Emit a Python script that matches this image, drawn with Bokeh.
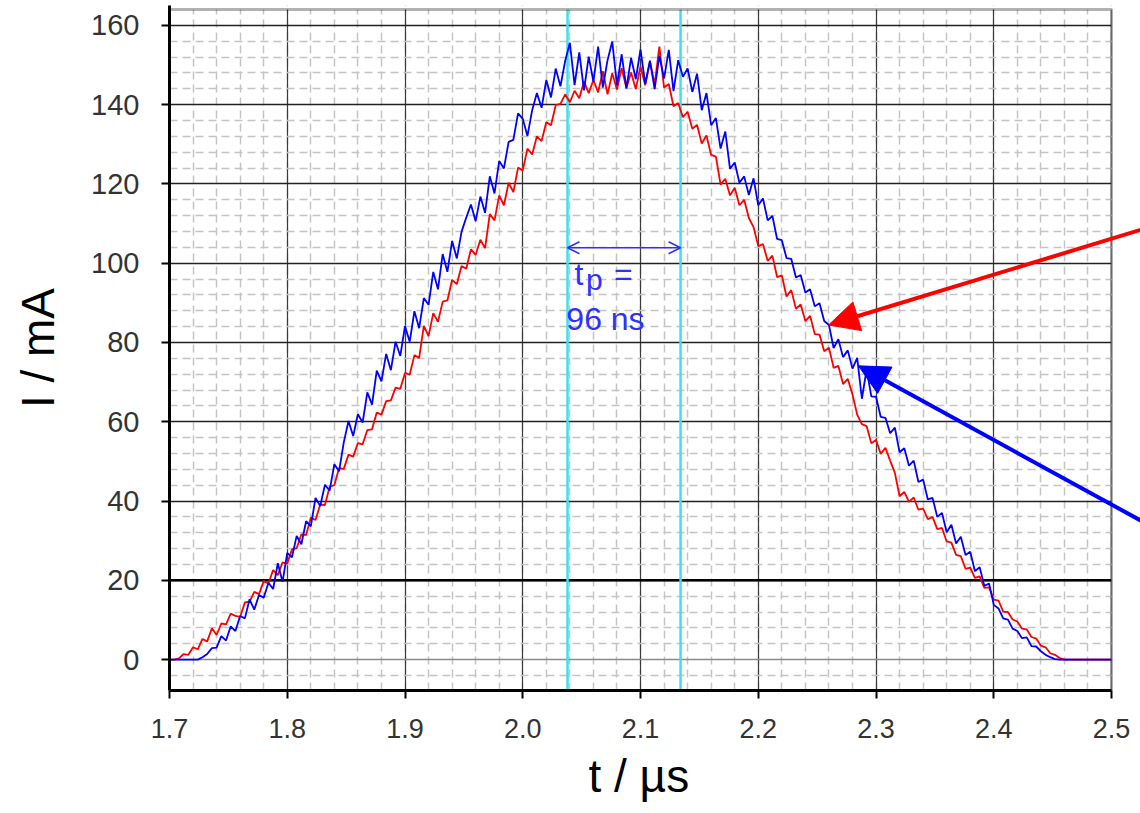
import numpy as np
from bokeh.plotting import figure
from bokeh.models import (Arrow, NormalHead, OpenHead, Span, Label, BoxAnnotation, Title,
                          SingleIntervalTicker, FixedTicker, Range1d, PrintfTickFormatter)
from bokeh.embed import file_html
from bokeh.resources import INLINE

# ---------------- data ----------------
t_start = 1.700          # µs
t_step = 0.004           # µs sampling of the traces

blue_mA = [
    0, 0, 0, 0, 0, 0, 0, 0.6, 1.4, 2.9,
    3.0, 5.9, 4.8, 8.4, 7.2, 11.0, 10.4, 15.2, 12.6, 16.3,
    15.6, 19.4, 17.8, 24.3, 19.6, 26.9, 25.8, 31.2, 29.1, 34.9,
    33.6, 40.8, 38.7, 44.1, 42.6, 49.3, 47.5, 54.8, 60.2, 56.4,
    61.9, 59.8, 67.4, 64.3, 72.9, 70.2, 77.1, 73.0, 80.2, 76.6,
    84.1, 80.2, 87.9, 83.6, 91.2, 89.5, 97.8, 93.4, 102.3, 97.8,
    105.6, 101.2, 107.9, 111.5, 114.8, 110.6, 116.8, 112.7, 121.9, 117.6,
    125.8, 123.9, 130.6, 131.1, 137.8, 136.4, 132.1, 138.6, 142.9, 139.2,
    146.2, 141.8, 149.1, 144.6, 151.0, 155.6, 144.9, 153.2, 143.6, 152.1,
    145.8, 154.6, 144.3, 151.2, 155.9, 144.9, 152.7, 144.1, 151.8, 146.4,
    153.9, 145.2, 151.1, 143.9, 152.3, 146.6, 153.8, 143.4, 151.2, 147.0,
    149.1, 143.2, 147.8, 138.6, 142.9, 134.8, 136.6, 128.9, 133.2, 123.8,
    125.4, 120.3, 121.9, 117.2, 121.4, 114.6, 116.3, 110.8, 111.9, 106.1,
    105.8, 101.3, 101.1, 96.4, 97.0, 92.6, 93.4, 89.1, 89.9, 85.4,
    84.4, 78.6, 80.8, 76.3, 78.0, 73.4, 76.1, 65.8, 73.2, 66.4,
    66.3, 61.2, 61.0, 57.1, 58.5, 52.3, 53.3, 48.9, 50.2, 44.8,
    45.4, 40.4, 40.8, 36.0, 37.0, 32.1, 34.0, 29.3, 31.0, 26.4,
    27.2, 22.3, 23.3, 18.6, 19.2, 13.8, 12.9, 10.4, 10.1, 7.8,
    7.2, 5.4, 5.6, 3.4, 3.3, 2.1, 1.2, 0.6, 0.1, 0,
    0, 0, 0, 0, 0, 0, 0, 0, 0, 0,
    0,
]

red_mA = [
    0, 0, 0.3, 1.4, 1.2, 3.1, 2.6, 5.2, 4.6, 7.9,
    6.2, 9.1, 8.9, 11.6, 11.0, 10.8, 14.4, 14.6, 17.1, 16.5,
    19.8, 19.2, 22.6, 21.3, 24.5, 24.2, 27.8, 28.1, 31.6, 31.4,
    35.8, 35.2, 39.1, 39.0, 43.6, 44.0, 48.3, 48.1, 51.7, 51.2,
    54.6, 54.3, 57.9, 58.1, 62.3, 61.8, 65.2, 65.4, 68.6, 68.3,
    72.3, 71.9, 76.8, 76.1, 84.2, 81.6, 87.4, 85.2, 90.3, 90.6,
    95.8, 94.7, 99.3, 98.6, 103.5, 102.1, 105.9, 103.8, 112.4, 110.8,
    117.1, 114.6, 120.3, 117.9, 124.1, 123.4, 128.9, 127.4, 132.0, 130.8,
    135.6, 134.8, 139.9, 140.2, 142.6, 140.6, 143.5, 141.6, 145.8, 142.9,
    146.2, 143.1, 148.4, 142.6, 147.9, 143.8, 149.2, 144.2, 148.1, 143.9,
    149.6, 144.9, 150.8, 145.1, 154.6, 144.3, 145.2, 139.6, 140.4, 136.8,
    138.2, 133.9, 134.9, 130.2, 132.2, 127.3, 126.9, 119.8, 121.3, 117.1,
    119.0, 114.6, 116.0, 111.4, 109.1, 104.3, 104.8, 100.6, 101.9, 96.5,
    96.9, 91.6, 93.2, 88.5, 89.6, 85.4, 86.7, 82.1, 82.0, 77.8,
    78.7, 73.6, 74.1, 69.5, 70.8, 66.9, 61.8, 59.4, 58.9, 54.6,
    55.4, 51.9, 53.4, 50.2, 47.1, 41.2, 42.3, 39.8, 40.9, 37.8,
    38.1, 35.4, 36.0, 32.9, 33.2, 29.8, 29.5, 26.4, 26.1, 22.9,
    23.2, 20.6, 21.0, 18.1, 18.2, 15.1, 14.9, 12.1, 12.0, 10.1,
    9.6, 7.8, 7.6, 5.7, 5.3, 3.5, 3.1, 1.6, 1.2, 0.4,
    0, 0, 0, 0, 0, 0, 0, 0, 0, 0,
    0,
]

t_us = [round(t_start + t_step * i, 3) for i in range(len(blue_mA))]

pulse_edges_us = [2.038, 2.134]      # cyan markers (t_p = 96 ns)
tp_arrow_level = 103.9               # mA, level of the double arrow
tp_text = ["t", "p", "=", "96 ns"]

red_arrow_tip = (2.2597, 84.4)
red_arrow_tail = (2.5400, 109.8)
blue_arrow_tip = (2.2851, 74.1)
blue_arrow_tail = (2.5400, 32.6)

x_axis_limits = (1.7, 2.5)
y_axis_limits = (-7.8, 164.0)
x_ticks_interval = 0.1
y_ticks_interval = 20
y_major_grid = [20, 40, 60, 80, 100, 120, 140, 160]
y_minor_grid = [v for v in range(-4, 164, 4) if v % 20 != 0]
x_label = "t / µs"
y_label = "I / mA"

# ---------------- figure ----------------
FONT = "Liberation Sans"
TP_BLUE = "#3030ff"

# the frame reaches the right edge of the page so the pointer arrows can
# run past the plotted box (x = 2.5); the box itself is drawn explicitly
p = figure(width=1140, height=813,
           x_range=Range1d(1.7, 2.5246), y_range=Range1d(-7.8, 165.0),
           output_backend="svg", toolbar_location=None,
           min_border_left=169, min_border_right=0,
           min_border_top=5, min_border_bottom=123)
p.background_fill_color = "white"
p.border_fill_color = "white"
p.outline_line_color = None

# axes
p.xaxis.ticker = SingleIntervalTicker(interval=x_ticks_interval, num_minor_ticks=5)
p.yaxis.ticker = SingleIntervalTicker(interval=y_ticks_interval, num_minor_ticks=5)
p.xaxis.formatter = PrintfTickFormatter(format="%.1f")
p.xaxis.bounds = x_axis_limits
for ax in (p.xaxis[0], p.yaxis[0]):
    ax.axis_line_width = 3
    ax.axis_line_color = "black"
    ax.major_tick_line_width = 2
    ax.major_tick_line_color = "black"
    ax.major_tick_out = 8
    ax.major_tick_in = 0
    ax.minor_tick_line_color = None
    ax.major_label_text_font = FONT
    ax.major_label_text_color = "#333333"
    ax.axis_label_text_font = FONT
    ax.axis_label_text_font_size = "46px"
    ax.axis_label_text_font_style = "normal"
    ax.axis_label_text_color = "black"
p.xaxis.major_label_standoff = 20
p.yaxis.major_label_standoff = 22
p.xaxis.major_label_text_font_size = "27px"
p.yaxis.major_label_text_font_size = "29px"
p.yaxis.axis_label = y_label
p.yaxis.axis_label_standoff = 24

# x-axis title centred under the plotted box (not the wider frame)
p.add_layout(Title(text=x_label, align="left", offset=419, standoff=15,
                   text_font=FONT, text_font_size="46px", text_font_style="normal",
                   text_color="black"), "below")

# grids
p.xgrid.ticker = SingleIntervalTicker(interval=x_ticks_interval, num_minor_ticks=5)
p.xgrid.grid_line_color = "#3a3a3a"
p.xgrid.grid_line_width = 1.2
p.xgrid.minor_grid_line_color = "#c4c4c4"
p.xgrid.minor_grid_line_width = 1.5
p.xgrid.minor_grid_line_dash = "8 5"

p.ygrid.ticker = FixedTicker(ticks=y_major_grid, minor_ticks=y_minor_grid)
p.ygrid.grid_line_color = "#222222"
p.ygrid.grid_line_width = 1.3
p.ygrid.minor_grid_line_color = "#c4c4c4"
p.ygrid.minor_grid_line_width = 1.5
p.ygrid.minor_grid_line_dash = "8 5"

p.add_layout(Span(location=0, dimension="width", line_color="#8a8a8a",
                  line_width=1.5, level="underlay"))
p.add_layout(Span(location=20, dimension="width", line_color="black",
                  line_width=2.6, level="underlay"))

# cyan pulse-width markers
for e in pulse_edges_us:
    p.add_layout(Span(location=e, dimension="height", line_color="#3de0ee",
                      line_width=2.5, level="underlay"))

# blank area right of / above the plotted box, then the box border
p.add_layout(BoxAnnotation(left=x_axis_limits[1], fill_color="white", fill_alpha=1.0,
                           line_color=None, level="underlay"))
p.add_layout(BoxAnnotation(bottom=y_axis_limits[1], fill_color="white", fill_alpha=1.0,
                           line_color=None, level="underlay"))
p.add_layout(BoxAnnotation(left=x_axis_limits[0], right=x_axis_limits[1],
                           bottom=y_axis_limits[0], top=y_axis_limits[1],
                           fill_color=None, fill_alpha=0, line_color="black",
                           line_width=3, level="underlay"))

# traces
p.line(t_us, red_mA, line_color="#ff0000", line_width=1.8)
p.line(t_us, blue_mA, line_color="#0000ff", line_width=1.8)

# double arrow t_p
p.add_layout(Arrow(start=OpenHead(size=12, line_color=TP_BLUE, line_width=1.5),
                   end=OpenHead(size=12, line_color=TP_BLUE, line_width=1.5),
                   x_start=pulse_edges_us[0], y_start=tp_arrow_level,
                   x_end=pulse_edges_us[1], y_end=tp_arrow_level,
                   line_color=TP_BLUE, line_width=1.5))

p.add_layout(Label(x=2.0440, y=97.2, text=tp_text[0], text_font=FONT,
                   text_font_size="32px", text_color=TP_BLUE,
                   text_baseline="alphabetic"))
p.add_layout(Label(x=2.0538, y=95.8, text=tp_text[1], text_font=FONT,
                   text_font_size="30px", text_color=TP_BLUE,
                   text_baseline="alphabetic"))
p.add_layout(Label(x=2.0775, y=97.2, text=tp_text[2], text_font=FONT,
                   text_font_size="32px", text_color=TP_BLUE,
                   text_baseline="alphabetic"))
p.add_layout(Label(x=2.0370, y=85.9, text=tp_text[3], text_font=FONT,
                   text_font_size="32px", text_color=TP_BLUE,
                   text_baseline="alphabetic"))

# pointer arrows
p.add_layout(Arrow(end=NormalHead(size=30, fill_color="#ff0000", line_color="#ff0000"),
                   x_start=red_arrow_tail[0], y_start=red_arrow_tail[1],
                   x_end=red_arrow_tip[0], y_end=red_arrow_tip[1],
                   line_color="#ff0000", line_width=4))
p.add_layout(Arrow(end=NormalHead(size=30, fill_color="#0000ff", line_color="#0000ff"),
                   x_start=blue_arrow_tail[0], y_start=blue_arrow_tail[1],
                   x_end=blue_arrow_tip[0], y_end=blue_arrow_tip[1],
                   line_color="#0000ff", line_width=4))

open("out.html", "w").write(file_html(p, INLINE))
